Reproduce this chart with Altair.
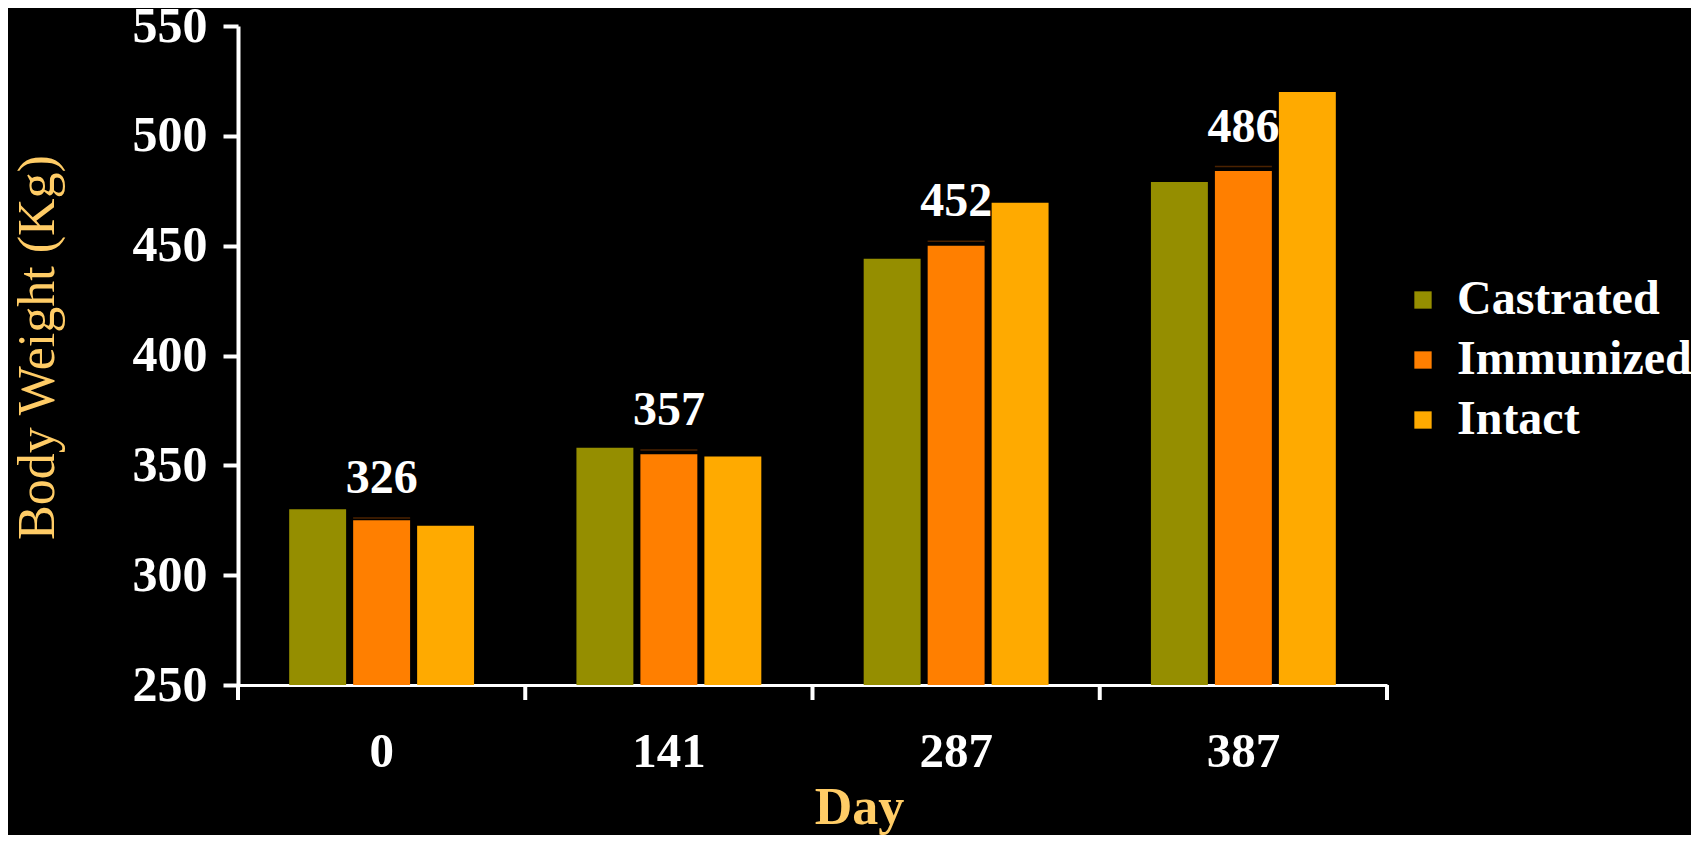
import altair as alt
import pandas as pd

days = ["0", "141", "287", "387"]
series = ["Castrated", "Immunized", "Intact"]
castrated = [330, 358, 444, 479]
immunized = [325, 355, 450, 484]
intact = [322.5, 354, 469.5, 520]
labels = [326, 357, 452, 486]
colors = ["#958E00", "#FF7F00", "#FFAA00"]

rows = []
for i, d in enumerate(days):
    for s, vals in zip(series, [castrated, immunized, intact]):
        rows.append({"Day": d, "Series": s, "Weight": vals[i]})
df = pd.DataFrame(rows)
lab_df = pd.DataFrame({"Day": days, "Series": ["Immunized"] * 4, "Label": labels})
day_df = pd.DataFrame({"Day": days})
last_df = pd.DataFrame({"Day": days[-1:]})

W, H = 1149, 659
FONT = "Liberation Serif"

xenc = alt.X("Day:N", sort=days, scale=alt.Scale(paddingInner=0, paddingOuter=0),
             axis=alt.Axis(title="Day", labelAngle=0, ticks=False, domainColor="white",
                           domainWidth=3, labelColor="white", labelFont=FONT,
                           labelFontWeight="bold", labelFontSize=49, labelPadding=42,
                           titleColor="#FFCC66", titleFont=FONT, titleFontWeight="bold",
                           titleFontSize=52, titleX=621, titleY=138, titleAlign="center",
                           titleBaseline="alphabetic"))
xoff = alt.XOffset("Series:N", sort=series,
                   scale=alt.Scale(domain=series, paddingInner=0.11, paddingOuter=0.8))
yscale = alt.Scale(domain=[250, 550], zero=False, nice=False)

bars = alt.Chart(df).mark_bar().encode(
    x=xenc,
    xOffset=xoff,
    y=alt.Y("Weight:Q", scale=yscale,
            axis=alt.Axis(title="Body Weight (Kg)", values=[250, 300, 350, 400, 450, 500, 550],
                          grid=False, domainColor="white", domainWidth=4, tickColor="white",
                          tickWidth=4, tickSize=15, labelColor="white", labelFont=FONT,
                          labelFontWeight="bold", labelFontSize=50, labelPadding=16,
                          titleColor="#FFCC66", titleFont=FONT, titleFontWeight="normal",
                          titleFontSize=52, titleX=-201, titleY=321, titleAlign="center",
                          titleBaseline="middle", titleAngle=-90)),
    y2=alt.datum(250),
    color=alt.Color("Series:N", sort=series,
                    scale=alt.Scale(domain=series, range=colors),
                    legend=alt.Legend(title=None, orient="none", legendX=1161, legendY=250,
                                      symbolType="square", symbolSize=300,
                                      symbolStrokeWidth=0, labelColor="white",
                                      labelFont=FONT, labelFontWeight="bold",
                                      labelFontSize=48, labelOffset=10, rowPadding=12,
                                      padding=0, labelLimit=400)),
)

caps = alt.Chart(lab_df).mark_tick(orient="horizontal", thickness=1.5, size=57,
                                    color="#6B3000").encode(
    x=alt.X("Day:N", sort=days),
    xOffset=alt.XOffset("Series:N", sort=series),
    y=alt.Y("Label:Q", scale=yscale),
)

texts = alt.Chart(lab_df).mark_text(font=FONT, fontWeight="bold", fontSize=48,
                                     color="white", baseline="alphabetic", dy=-25).encode(
    x=alt.X("Day:N", sort=days),
    y=alt.Y("Label:Q", scale=yscale),
    text=alt.Text("Label:Q"),
)

bticks = alt.Chart(day_df).mark_rule(color="white", strokeWidth=4).encode(
    x=alt.X("Day:N", sort=days, bandPosition=0),
    y=alt.value(H), y2=alt.value(H + 15),
)
eticks = alt.Chart(last_df).mark_rule(color="white", strokeWidth=4).encode(
    x=alt.X("Day:N", sort=days, bandPosition=1),
    y=alt.value(H), y2=alt.value(H + 15),
)

chart = alt.layer(bars, caps, texts, bticks, eticks).properties(
    width=W, height=H,
    background="black",
    padding={"left": 230, "top": 18, "right": 1683 - 230 - W, "bottom": 827 - 18 - H},
    autosize=alt.AutoSizeParams(type="none"),
).configure_view(stroke=None)

chart.save("out.html", embed_options={"renderer": "svg", "actions": False})
